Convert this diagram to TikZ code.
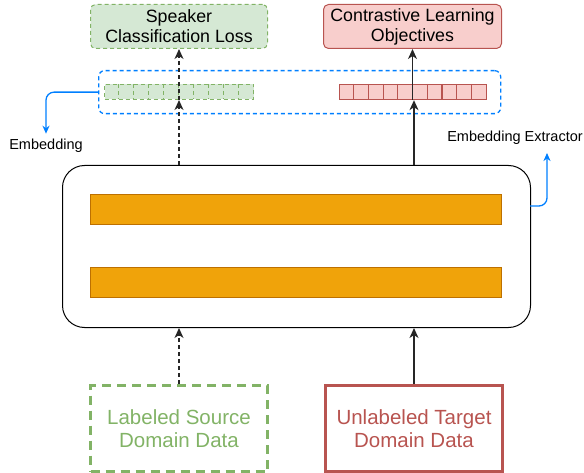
\documentclass[tikz,border=0pt]{standalone}
\usepackage{fontspec}
\setmainfont{Liberation Sans}
\usetikzlibrary{arrows.meta}
\definecolor{gfill}{HTML}{D5E8D4}
\definecolor{gline}{HTML}{82B366}
\definecolor{rfill}{HTML}{F8CECC}
\definecolor{rline}{HTML}{B85450}
\definecolor{ofill}{HTML}{F0A30A}
\definecolor{oline}{HTML}{BD7000}
\definecolor{bl}{HTML}{007FFF}
\begin{document}
\begin{tikzpicture}[x=1pt,y=-1pt,
  box/.style={draw, inner sep=0pt, anchor=north west, align=center},
  arr/.style={-{Stealth[length=10pt,width=9pt,inset=3pt]}, line width=1.3pt, black!85},
  dsh/.style={dash pattern=on 4pt off 3pt},
  barbox/.style={box, fill=ofill, draw=oline, minimum width=411pt, minimum height=30pt, line width=0.8pt},
  barrow/.style={bl, line width=1.3pt, rounded corners=8pt, -{Stealth[length=8pt,width=7pt,inset=2.5pt]}},
  lbl/.style={font=\fontsize{14.5}{16}\selectfont}]
\useasboundingbox (0,0) rectangle (584,473);

% top boxes
\node[box, fill=gfill, draw=gline, dsh, line width=1pt, rounded corners=5pt, minimum width=177pt, minimum height=44pt, font=\fontsize{17.8}{20}\selectfont] (spk) at (90,4) {Speaker\\Classification Loss};
\node[box, fill=rfill, draw=rline, line width=1pt, rounded corners=5pt, minimum width=178pt, minimum height=44pt, font=\fontsize{17.8}{20}\selectfont] (con) at (323,4) {Contrastive Learning\\Objectives};

% embedding region
\node[box, draw=bl, dsh, line width=1.3pt, rounded corners=6pt, minimum width=402pt, minimum height=43pt] (emb region) at (98,70) {};
\node[box, fill=gfill, draw=gline, dsh, line width=1pt, minimum width=149pt, minimum height=15pt] (gcells) at (104,84) {};
\foreach \i in {1,...,9} \draw[gline, dsh, line width=1pt] (104+\i*14.9,84) -- (104+\i*14.9,99);
\node[box, fill=rfill, draw=rline, line width=1.2pt, minimum width=147pt, minimum height=15pt] (rcells) at (339,84) {};
\foreach \i in {1,...,9} \draw[rline, line width=1.2pt] (339+\i*14.7,84) -- (339+\i*14.7,99);

% extractor
\node[box, line width=1pt, rounded corners=22pt, minimum width=468pt, minimum height=162pt] (ext) at (62,165) {};
\node[barbox] (bar1) at (90,194) {};
\node[barbox] (bar2) at (90,267) {};

% bottom boxes
\node[box, draw=gline, line width=3pt, dash pattern=on 9pt off 6pt, text=gline, minimum width=177pt, minimum height=86pt, font=\fontsize{20.5}{23}\selectfont] (src) at (89,384) {Labeled Source\\Domain Data};
\node[box, draw=rline, line width=3pt, text=rline, minimum width=177pt, minimum height=86pt, font=\fontsize{20.5}{23}\selectfont] (tgt) at (324,384) {Unlabeled Target\\Domain Data};

% labels
\node[lbl] (emb) at (46,146) {Embedding};
\node[lbl] (embx) at (515,138) {Embedding Extractor};

% blue arrows
\draw[barrow, shorten >=2pt] (emb region.west) -| (emb.north);
\coordinate (eo) at (530,206);
\coordinate (eot) at (547,153);
\draw[barrow] (eo) -| (eot);

% flow arrows (source, dashed)
\draw[arr, dsh] (src.north) -- (src.north |- ext.south);
\draw[arr, dsh] (ext.north -| src.north) -- (gcells.south -| src.north);
\draw[arr, dsh] (gcells.south -| spk.south) -- (spk.south);
% flow arrows (target, solid)
\draw[arr] (tgt.north) -- (tgt.north |- ext.south);
\draw[arr] (ext.north -| tgt.north) -- (rcells.south -| tgt.north);
\draw[arr] (rcells.south -| con.south) -- (con.south);
\end{tikzpicture}
\end{document}
